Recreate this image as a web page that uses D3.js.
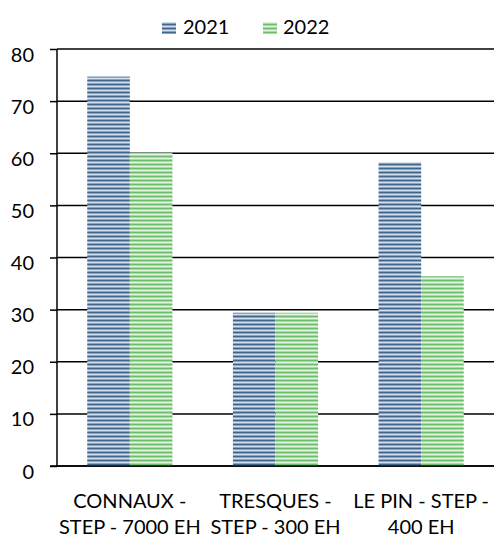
<!DOCTYPE html>
<html>
<head>
<meta charset="utf-8">
<script src="https://cdn.jsdelivr.net/npm/d3@7"></script>
<style>
  html, body { margin: 0; padding: 0; background: #fff; }
  svg { display: block; font-family: Lato, "Open Sans", sans-serif; }
</style>
</head>
<body>
<svg id="chart" width="494" height="540"></svg>
<script>
// Station names (each split over two lines) and yearly values
const categories = [
  ["CONNAUX -", "STEP - 7000 EH"],
  ["TRESQUES -", "STEP - 300 EH"],
  ["LE PIN - STEP -", "400 EH"]
];
const seriesNames = ["2021", "2022"];
const values2021 = [74.7, 29.4, 58.3];
const values2022 = [60.1, 29.4, 36.4];
const yTicks = [0, 10, 20, 30, 40, 50, 60, 70, 80];

const svg = d3.select("#chart");
const margin = { left: 57, right: 0, top: 49, bottom: 74 };
const W = 494, H = 540;

// Striped fills for each series
const defs = svg.append("defs");
const stripeSets = {
  "2021": ["#42658d", "#87a3c3", "#d3e0ee", "#87a3c3"],
  "2022": ["#6cbf6a", "#a9dba6", "#e3f4e1", "#a9dba6"]
};
Object.entries(stripeSets).forEach(([name, cols]) => {
  const p = defs.append("pattern")
    .attr("id", "stripe" + name)
    .attr("patternUnits", "userSpaceOnUse")
    .attr("width", 8).attr("height", cols.length);
  cols.forEach((c, i) => p.append("rect").attr("x", 0).attr("y", i).attr("width", 8).attr("height", 1).attr("fill", c));
});

const x0 = d3.scaleBand()
  .domain(d3.range(categories.length))
  .range([margin.left, W - margin.right])
  .paddingInner(0).paddingOuter(0);
const x1 = d3.scaleBand()
  .domain(seriesNames)
  .range([0, x0.bandwidth()])
  .paddingInner(0).paddingOuter(0.71);
const y = d3.scaleLinear().domain([0, 80]).range([H - margin.bottom, margin.top]);

// Tick stubs and labels on the value axis
const yAxis = svg.append("g")
  .attr("transform", `translate(${margin.left},0)`)
  .call(d3.axisLeft(y).tickValues(yTicks).tickSize(7).tickFormat(d3.format("d")));
yAxis.select(".domain").remove();
yAxis.selectAll(".tick line").attr("stroke", "#000").attr("stroke-width", 1.5);
yAxis.selectAll(".tick text")
  .attr("x", -23).attr("dy", null).attr("y", 12)
  .attr("text-anchor", "end")
  .attr("font-size", 20).attr("fill", "#000")
  .attr("font-family", "Lato, 'Open Sans', sans-serif");

// Horizontal gridlines
svg.append("g").selectAll("line").data(yTicks).join("line")
  .attr("x1", margin.left).attr("x2", W)
  .attr("y1", d => y(d)).attr("y2", d => y(d))
  .attr("stroke", "#000").attr("stroke-width", 1.5);

// Bars
const series = [values2021, values2022];
const g = svg.append("g");
categories.forEach((c, i) => {
  seriesNames.forEach((s, j) => {
    const v = series[j][i];
    g.append("rect")
      .attr("x", x0(i) + x1(s))
      .attr("y", y(v))
      .attr("width", x1.bandwidth())
      .attr("height", y(0) - y(v))
      .attr("fill", `url(#stripe${s})`);
  });
});

// Vertical axis line
svg.append("line")
  .attr("x1", margin.left).attr("x2", margin.left)
  .attr("y1", y(80)).attr("y2", y(0))
  .attr("stroke", "#000").attr("stroke-width", 1.5);
// Baseline drawn over bars
svg.append("line")
  .attr("x1", margin.left - 7).attr("x2", W)
  .attr("y1", y(0)).attr("y2", y(0))
  .attr("stroke", "#000").attr("stroke-width", 1.5);

// Category labels
const lab = svg.append("g").attr("font-size", 20).attr("fill", "#000");
categories.forEach((lines, i) => {
  const cx = x0(i) + x0.bandwidth() / 2;
  lines.forEach((t, k) => {
    lab.append("text")
      .attr("x", cx).attr("y", 508 + k * 26)
      .attr("text-anchor", "middle")
      .text(t);
  });
});

// Legend
const legend = svg.append("g").attr("font-size", 20).attr("fill", "#000");
const legendSquareX = [162, 263];
const legendTextX = [183, 283];
seriesNames.forEach((s, j) => {
  legend.append("rect")
    .attr("x", legendSquareX[j]).attr("y", 22)
    .attr("width", 14).attr("height", 12)
    .attr("fill", `url(#stripe${s})`);
  legend.append("text")
    .attr("x", legendTextX[j]).attr("y", 34)
    .text(s);
});
</script>
</body>
</html>
